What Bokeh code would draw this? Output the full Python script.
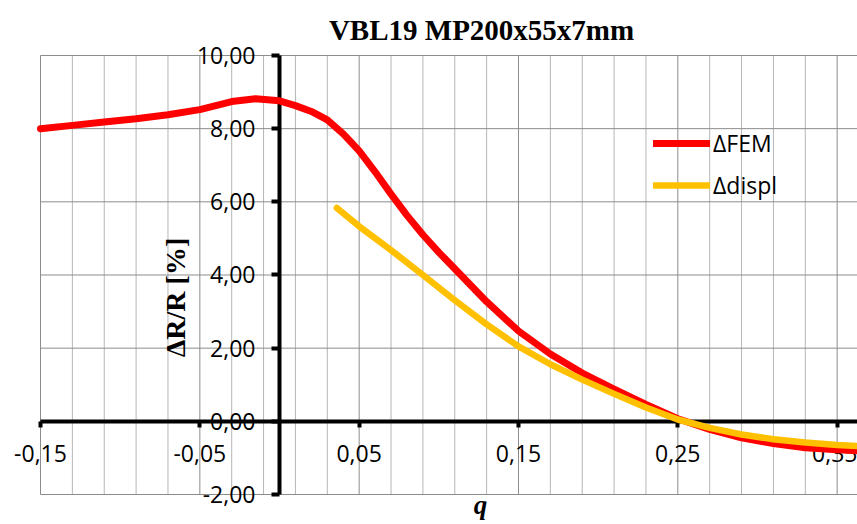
from math import pi
from bokeh.plotting import figure
from bokeh.models import FixedTicker, Label, Legend, LegendItem, Range1d
from bokeh.embed import file_html
from bokeh.resources import INLINE

# ---- data ----
q_fem = [-0.15, -0.13, -0.11, -0.09, -0.07, -0.05, -0.03, -0.015, 0.0, 0.01, 0.02,
         0.03, 0.04, 0.05, 0.06, 0.07, 0.08, 0.09, 0.10, 0.11, 0.13, 0.15, 0.17,
         0.19, 0.21, 0.23, 0.25, 0.27, 0.29, 0.31, 0.33, 0.35, 0.365]
fem = [8.00, 8.09, 8.18, 8.27, 8.38, 8.52, 8.74, 8.82, 8.76, 8.63, 8.47,
       8.24, 7.86, 7.39, 6.82, 6.21, 5.63, 5.10, 4.62, 4.17, 3.27, 2.47, 1.84,
       1.32, 0.88, 0.46, 0.07, -0.22, -0.45, -0.61, -0.72, -0.78, -0.81]

q_displ = [0.036, 0.05, 0.07, 0.09, 0.11, 0.13, 0.15, 0.17, 0.19, 0.21, 0.23,
           0.25, 0.27, 0.29, 0.31, 0.33, 0.35, 0.365]
displ = [5.83, 5.33, 4.68, 4.00, 3.31, 2.65, 2.05, 1.56, 1.14, 0.75, 0.38,
         0.05, -0.18, -0.36, -0.49, -0.58, -0.65, -0.68]

x_ticks = [-0.15, -0.05, 0.05, 0.15, 0.25, 0.35]
x_tick_labels = ["-0,15", "-0,05", "0,05", "0,15", "0,25", "0,35"]
x_minor_ticks = [-0.13, -0.11, -0.09, -0.07, -0.03, -0.01, 0.01, 0.03, 0.07, 0.09,
                 0.11, 0.13, 0.17, 0.19, 0.21, 0.23, 0.27, 0.29, 0.31, 0.33]
y_ticks = [-2, 0, 2, 4, 6, 8, 10]
y_tick_labels = ["-2,00", "0,00", "2,00", "4,00", "6,00", "8,00", "10,00"]

title_text = "VBL19 MP200x55x7mm"
x_title = "q"
y_title = "ΔR/R [%]"
series_names = ["ΔFEM", "Δdispl"]

X_MIN, X_MAX = -0.15, 0.45   # plot-area extent (right part runs off the page)
Y_MIN, Y_MAX = -2, 10

TICK_FONT = "Open Sans"
SERIF = "Liberation Serif"

# frame covers the whole canvas so that nothing gets clipped
p = figure(width=857, height=524,
           x_range=Range1d(-0.17511, 0.36277), y_range=Range1d(-2.820, 11.503),
           output_backend="svg", toolbar_location=None, min_border=0)
p.outline_line_color = None
p.background_fill_color = "white"
p.xgrid.visible = False
p.ygrid.visible = False

# ---- gridlines (plot area only) ----
GRID_MAJOR = "#8c8c8c"
GRID_MINOR = "#b5b5b5"
p.segment(x0=x_minor_ticks, y0=[Y_MIN] * len(x_minor_ticks),
          x1=x_minor_ticks, y1=[Y_MAX] * len(x_minor_ticks),
          line_color=GRID_MINOR, line_width=1, level="image")
p.segment(x0=x_ticks, y0=[Y_MIN] * len(x_ticks),
          x1=x_ticks, y1=[Y_MAX] * len(x_ticks),
          line_color=GRID_MAJOR, line_width=1, level="image")
p.segment(x0=[X_MIN] * len(y_ticks), y0=y_ticks,
          x1=[X_MAX] * len(y_ticks), y1=y_ticks,
          line_color=GRID_MAJOR, line_width=1, level="image")

# ---- axes crossing at the origin ----
p.xaxis.fixed_location = 0
p.yaxis.fixed_location = 0
p.xaxis.bounds = (X_MIN, X_MAX)
p.yaxis.bounds = (Y_MIN, Y_MAX)
p.xaxis.ticker = FixedTicker(ticks=x_ticks, minor_ticks=x_minor_ticks)
p.yaxis.ticker = FixedTicker(ticks=y_ticks)
p.xaxis.major_label_overrides = dict(zip(x_ticks, x_tick_labels))
p.yaxis.major_label_overrides = dict(zip(y_ticks, y_tick_labels))

for ax in (p.xaxis, p.yaxis):
    ax.level = "underlay"
    ax.axis_line_color = "black"
    ax.axis_line_width = 4
    ax.major_tick_line_color = "black"
    ax.major_tick_line_width = 4
    ax.major_tick_in = 0
    ax.minor_tick_in = 0
    ax.minor_tick_out = 0
    ax.major_label_text_font = TICK_FONT
    ax.major_label_text_font_size = "23px"
    ax.major_label_text_color = "black"

p.xaxis.major_tick_out = 6
p.xaxis.major_label_standoff = 18
p.yaxis.major_tick_out = 8
p.yaxis.major_label_standoff = 16

# ---- series ----
r1 = p.line(q_fem, fem, line_color="#FF0000", line_width=7,
            line_cap="round", line_join="round")
r2 = p.line(q_displ, displ, line_color="#FFC000", line_width=6.5,
            line_cap="round", line_join="round")

legend = Legend(items=[LegendItem(label=series_names[0], renderers=[r1]),
                       LegendItem(label=series_names[1], renderers=[r2])],
                location=(653, 323), padding=0, margin=0,
                border_line_color=None, background_fill_alpha=0,
                glyph_width=57, glyph_height=32, label_height=32,
                spacing=10, label_standoff=3,
                label_text_font=TICK_FONT, label_text_font_size="23px",
                label_text_color="black")
p.add_layout(legend)

# ---- titles ----
p.add_layout(Label(x=0.1268, y=10.683, text=title_text, text_align="center",
                   text_baseline="alphabetic", text_font=SERIF,
                   text_font_style="bold", text_font_size="29px",
                   text_color="black"))
p.add_layout(Label(x=-0.0653, y=3.385, text=y_title, angle=pi / 2,
                   text_align="center", text_baseline="middle",
                   text_font=SERIF, text_font_style="bold",
                   text_font_size="28px", text_color="black"))
p.add_layout(Label(x=0.1262, y=-2.29, text=x_title, text_align="center",
                   text_baseline="alphabetic", text_font=SERIF,
                   text_font_style="bold italic", text_font_size="27px",
                   text_color="black"))

open("out.html", "w").write(file_html(p, INLINE))
